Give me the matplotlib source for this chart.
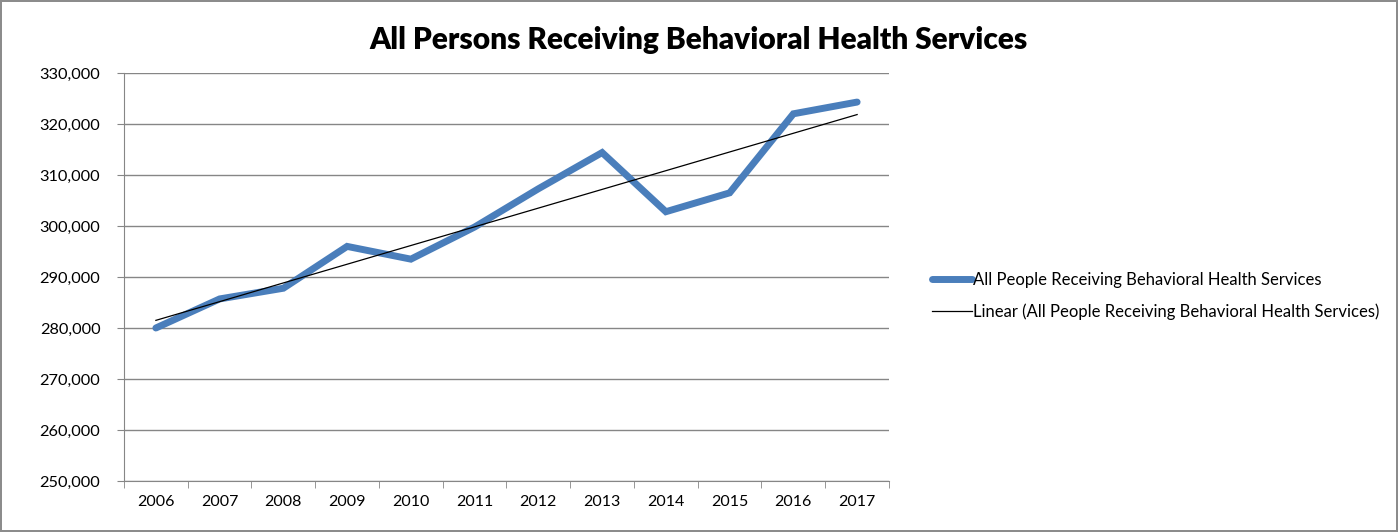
import numpy as np
import matplotlib
matplotlib.use("Agg")
import matplotlib.pyplot as plt
from matplotlib.ticker import FuncFormatter, FixedLocator

plt.rcParams['font.family'] = ['Lato', 'DejaVu Sans']

# Data
years = ["2006", "2007", "2008", "2009", "2010", "2011",
         "2012", "2013", "2014", "2015", "2016", "2017"]
persons = [280000, 285700, 287800, 296000, 293500, 299800,
           307300, 314400, 302800, 306500, 322000, 324300]

series_label = "All People Receiving Behavioral Health Services"
trend_label = "Linear (All People Receiving Behavioral Health Services)"

fig = plt.figure(figsize=(13.98, 5.32), dpi=100)
fig.patch.set_edgecolor("#8c8c8c")
fig.patch.set_linewidth(1.5)
ax = fig.add_axes([124 / 1398, 1 - 481 / 532, (889 - 124) / 1398, (481 - 73) / 532])

x = np.arange(len(years))
y = np.array(persons)

# Data line
ax.plot(x, y, color="#4A7EBB", linewidth=5, solid_capstyle="round",
        solid_joinstyle="miter", label=series_label, zorder=3)

# Linear trend line
slope, intercept = np.polyfit(x, y, 1)
ax.plot(x, slope * x + intercept, color="black", linewidth=0.9,
        label=trend_label, zorder=4)

# Axes / grid
ax.set_xlim(-0.5, len(years) - 0.5)
ax.set_ylim(250000, 330000)
ax.set_yticks(np.arange(250000, 330001, 10000))
ax.yaxis.set_major_formatter(FuncFormatter(lambda v, p: f"{int(v):,}"))
ax.grid(axis="y", color="#868686", linewidth=1)
ax.set_axisbelow(True)

ax.set_xticks(x)
ax.set_xticklabels(years)
ax.xaxis.set_minor_locator(FixedLocator(np.arange(-0.5, len(years), 1.0)))
ax.tick_params(axis="x", which="major", length=0, labelsize=11.5, pad=10)
ax.tick_params(axis="x", which="minor", length=5, color="#868686")
ax.tick_params(axis="y", length=5, color="#868686", labelsize=11.8, pad=12)

for side in ["top", "right"]:
    ax.spines[side].set_visible(False)
for side in ["left", "bottom"]:
    ax.spines[side].set_color("#868686")

fig.text(0.5, 1 - 40 / 532, "All Persons Receiving Behavioral Health Services",
         ha="center", va="center", fontsize=21.5, fontweight="heavy")

ax.legend(loc="center left", bbox_to_anchor=(917 / 1398, 1 - 296 / 532),
          bbox_transform=fig.transFigure, frameon=False, fontsize=12,
          handlelength=2.4, handletextpad=0.05, labelspacing=0.95)

plt.savefig("out.png", dpi=100)
